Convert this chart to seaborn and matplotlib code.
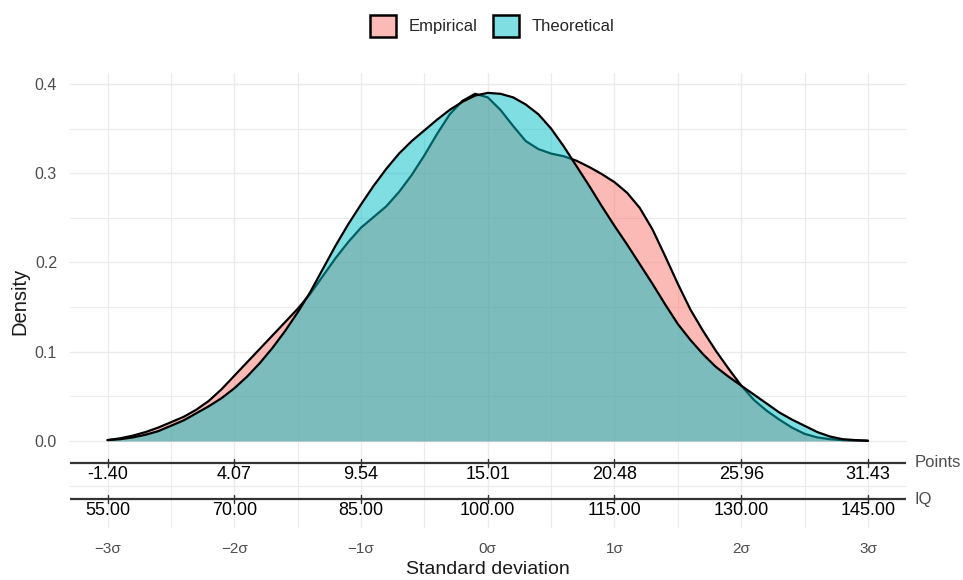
import numpy as np
import pandas as pd
import matplotlib
matplotlib.use("Agg")
import matplotlib.pyplot as plt
from matplotlib.patches import Patch
import seaborn as sns

# ---------------- data ----------------
sigma = [-3.0, -2.9, -2.8, -2.7, -2.6, -2.5, -2.4, -2.3, -2.2, -2.1,
         -2.0, -1.9, -1.8, -1.7, -1.6, -1.5, -1.4, -1.3, -1.2, -1.1,
         -1.0, -0.9, -0.8, -0.7, -0.6, -0.5, -0.4, -0.3, -0.2, -0.1,
         0.0, 0.1, 0.2, 0.3, 0.4, 0.5, 0.6, 0.7, 0.8, 0.9,
         1.0, 1.1, 1.2, 1.3, 1.4, 1.5, 1.6, 1.7, 1.8, 1.9,
         2.0, 2.1, 2.2, 2.3, 2.4, 2.5, 2.6, 2.7, 2.8, 2.9, 3.0]

empirical = [0.001, 0.003, 0.006, 0.010, 0.015, 0.021, 0.027, 0.035, 0.045, 0.058,
             0.073, 0.088, 0.103, 0.118, 0.133, 0.148, 0.165, 0.185, 0.205, 0.223,
             0.239, 0.251, 0.263, 0.279, 0.298, 0.320, 0.344, 0.366, 0.381, 0.389,
             0.385, 0.371, 0.353, 0.336, 0.327, 0.322, 0.319, 0.314, 0.307, 0.299,
             0.290, 0.278, 0.261, 0.237, 0.207, 0.176, 0.147, 0.123, 0.101, 0.081,
             0.062, 0.046, 0.034, 0.024, 0.015, 0.008, 0.004, 0.002, 0.001, 0.0005, 0.0002]

theoretical = [0.001, 0.002, 0.004, 0.007, 0.011, 0.017, 0.023, 0.031, 0.039, 0.048,
               0.059, 0.072, 0.087, 0.104, 0.123, 0.144, 0.167, 0.193, 0.219, 0.243,
               0.265, 0.286, 0.305, 0.322, 0.336, 0.348, 0.360, 0.371, 0.380, 0.387,
               0.390, 0.389, 0.385, 0.377, 0.366, 0.350, 0.330, 0.308, 0.286, 0.263,
               0.241, 0.220, 0.198, 0.176, 0.153, 0.131, 0.113, 0.097, 0.083, 0.072,
               0.062, 0.052, 0.042, 0.032, 0.024, 0.017, 0.010, 0.005, 0.002, 0.001, 0.0003]

sd_ticks = [-3, -2, -1, 0, 1, 2, 3]
sd_labels = ["\u22123\u03c3", "\u22122\u03c3", "\u22121\u03c3", "0\u03c3", "1\u03c3", "2\u03c3", "3\u03c3"]
points_labels = ["-1.40", "4.07", "9.54", "15.01", "20.48", "25.96", "31.43"]
iq_labels = ["55.00", "70.00", "85.00", "100.00", "115.00", "130.00", "145.00"]
density_ticks = [0.0, 0.1, 0.2, 0.3, 0.4]
series_names = ["Empirical", "Theoretical"]
series_colors = ["#F8766D", "#00BFC4"]

df = pd.DataFrame({
    "sigma": sigma * 2,
    "density": empirical + theoretical,
    "series": [series_names[0]] * len(sigma) + [series_names[1]] * len(sigma),
})

# ---------------- style ----------------
sns.set_theme(style="white")
plt.rcParams["font.family"] = ["Liberation Sans", "DejaVu Sans"]

fig = plt.figure(figsize=(9.63, 5.8), dpi=100)
W, H = 963, 580
left_px, right_px, top_px, bot_px = 69.5, 906.0, 73.0, 528.0
ax = fig.add_axes([left_px / W, 1 - bot_px / H, (right_px - left_px) / W, (bot_px - top_px) / H])

# densities: fill then outline, empirical first, theoretical on top
z = 2
for name, col in zip(series_names, series_colors):
    sub = df[df["series"] == name]
    ax.fill_between(sub["sigma"], 0, sub["density"], color=col, alpha=0.5, lw=0, zorder=z)
    sns.lineplot(data=sub, x="sigma", y="density", color="black", lw=1.6,
                 ax=ax, legend=False, zorder=z + 1, estimator=None)
    z += 2

ax.set_xlim(-3.3, 3.3)
ax.set_ylim(-0.0975, 0.4123)

# grid
ax.set_xticks(sd_ticks)
ax.set_xticklabels(sd_labels)
ax.set_xticks([-2.5, -1.5, -0.5, 0.5, 1.5, 2.5], minor=True)
ax.set_yticks(density_ticks)
ax.set_yticklabels([f"{v:.1f}" for v in density_ticks])
ax.set_yticks([-0.05, 0.05, 0.15, 0.25, 0.35], minor=True)
ax.grid(which="major", color="#EBEBEB", lw=1.0)
ax.grid(which="minor", color="#EBEBEB", lw=0.8)
ax.set_axisbelow(True)
for s in ax.spines.values():
    s.set_visible(False)
ax.tick_params(axis="both", which="both", length=0)
ax.tick_params(axis="x", pad=10, labelsize=11, labelcolor="#4D4D4D")
ax.tick_params(axis="y", pad=9, labelsize=11.5, labelcolor="#4D4D4D")

ax.set_xlabel("Standard deviation", fontsize=14, color="#1A1A1A", va="center")
ax.xaxis.set_label_coords(0.5, -(569 - bot_px) / (bot_px - top_px))
ax.set_ylabel("Density", fontsize=14.5, color="#1A1A1A", va="center")
ax.yaxis.set_label_coords((20 - left_px) / (right_px - left_px), 0.497)

# secondary scales: Points and IQ
rows = [(-0.0243, -0.038, points_labels, "Points"), (-0.0653, -0.078, iq_labels, "IQ")]
for y_line, y_lab, labels, title in rows:
    ax.plot([-3.3, 3.3], [y_line, y_line], color="#333333", lw=1.6, zorder=8,
            solid_capstyle="butt", clip_on=False)
    for t, lab in zip(sd_ticks, labels):
        ax.plot([t, t], [y_line + 0.0045, y_line - 0.0045], color="#333333", lw=1.0, zorder=8)
        ax.text(t, y_lab, lab, ha="center", va="center", fontsize=13, color="black", zorder=9)
    ax.text(3.37, y_line, title, ha="left", va="center", fontsize=12, color="#4D4D4D",
            clip_on=False)

# legend
handles = [Patch(facecolor=matplotlib.colors.to_rgba(c, 0.5), edgecolor="black", lw=1.8)
           for c in series_colors]
fig.legend(handles, series_names, loc="center", bbox_to_anchor=(492 / W, 1 - 26 / H),
           ncol=2, frameon=False, fontsize=12, handlelength=1.6, handleheight=1.6,
           handletextpad=0.75, columnspacing=0.9)

fig.savefig("out.png", dpi=100, facecolor="white")
